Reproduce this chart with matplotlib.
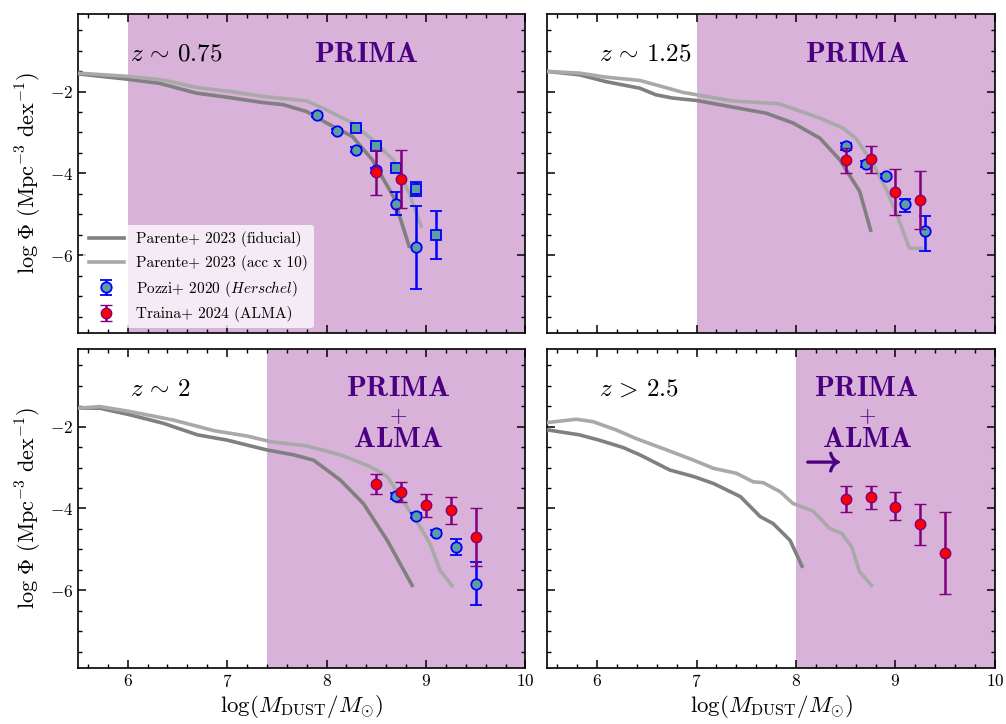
import numpy as np
import matplotlib
matplotlib.use("Agg")
from matplotlib import pyplot as plt
from matplotlib.ticker import MultipleLocator
from matplotlib import patheffects

plt.rcParams['font.family'] = 'serif'
plt.rcParams['font.serif'] = ['cmr10']
plt.rcParams['mathtext.fontset'] = 'cm'
plt.rcParams['axes.formatter.use_mathtext'] = True

# ---- z ~ 0.75 ----
fid_x_1 = [5.5, 6.0, 6.32, 6.69, 7.0, 7.36, 7.56, 7.8, 8.0, 8.26, 8.46, 8.67, 8.83]
fid_y_1 = [-1.57, -1.70, -1.80, -2.04, -2.14, -2.27, -2.32, -2.49, -2.77, -3.10, -3.67, -4.56, -5.78]
acc_x_1 = [5.5, 6.0, 6.36, 6.69, 7.03, 7.36, 7.8, 8.0, 8.26, 8.46, 8.67, 8.83, 8.95]
acc_y_1 = [-1.55, -1.63, -1.72, -1.90, -2.00, -2.12, -2.23, -2.45, -2.77, -3.18, -3.67, -4.48, -5.29]
poz_x_1 = [7.9, 8.1, 8.3, 8.5, 8.7, 8.9]
poz_y_1 = [-2.57, -2.96, -3.42, -3.93, -4.75, -5.81]
poz_lo_1 = [0.05, 0.05, 0.06, 0.06, 0.27, 1.01]
poz_hi_1 = [0.05, 0.05, 0.06, 0.06, 0.29, 1.01]
pozsq_x_1 = [8.3, 8.5, 8.7, 8.9, 9.1]
pozsq_y_1 = [-2.89, -3.34, -3.87, -4.38, -5.50]
pozsq_err_1 = [0.05, 0.05, 0.05, 0.17, 0.59]
tra_x_1 = [8.5, 8.75]
tra_y_1 = [-3.97, -4.15]
tra_lo_1 = [0.57, 0.70]
tra_hi_1 = [0.55, 0.71]

# ---- z ~ 1.25 ----
fid_x_2 = [5.5, 5.82, 6.09, 6.43, 6.59, 6.76, 7.0, 7.36, 7.70, 7.97, 8.24, 8.44, 8.64, 8.75]
fid_y_2 = [-1.51, -1.59, -1.76, -1.92, -2.08, -2.16, -2.22, -2.38, -2.53, -2.77, -3.14, -3.67, -4.44, -5.39]
acc_x_2 = [5.5, 5.82, 6.09, 6.43, 6.86, 7.0, 7.36, 7.83, 8.24, 8.47, 8.60, 8.77, 8.91, 9.02, 9.14, 9.26]
acc_y_2 = [-1.51, -1.55, -1.65, -1.73, -2.02, -2.08, -2.23, -2.30, -2.65, -2.89, -3.14, -3.75, -4.40, -5.05, -5.83, -5.83]
poz_x_2 = [8.5, 8.7, 8.9, 9.1, 9.3]
poz_y_2 = [-3.34, -3.77, -4.06, -4.75, -5.41]
poz_lo_2 = [0.08, 0.07, 0.05, 0.19, 0.49]
poz_hi_2 = [0.08, 0.07, 0.05, 0.13, 0.36]
tra_x_2 = [8.5, 8.75, 9.0, 9.25]
tra_y_2 = [-3.67, -3.64, -4.46, -4.64]
tra_lo_2 = [0.33, 0.34, 0.56, 0.71]
tra_hi_2 = [0.30, 0.31, 0.57, 0.69]

# ---- z ~ 2 ----
fid_x_3 = [5.5, 5.72, 6.02, 6.36, 6.70, 7.0, 7.4, 7.67, 7.87, 8.14, 8.37, 8.61, 8.86]
fid_y_3 = [-1.55, -1.55, -1.71, -1.92, -2.20, -2.33, -2.57, -2.69, -2.82, -3.31, -3.88, -4.78, -5.88]
acc_x_3 = [5.5, 5.72, 6.02, 6.46, 6.87, 7.2, 7.44, 7.8, 8.14, 8.44, 8.61, 8.74, 8.94, 9.04, 9.14, 9.26]
acc_y_3 = [-1.55, -1.51, -1.63, -1.84, -2.10, -2.23, -2.37, -2.47, -2.69, -2.98, -3.22, -3.71, -4.45, -4.86, -5.51, -5.88]
poz_x_3 = [8.7, 8.9, 9.1, 9.3, 9.5]
poz_y_3 = [-3.70, -4.18, -4.59, -4.94, -5.84]
poz_lo_3 = [0.07, 0.06, 0.06, 0.20, 0.53]
poz_hi_3 = [0.07, 0.06, 0.06, 0.19, 0.53]
tra_x_3 = [8.5, 8.75, 9.0, 9.25, 9.5]
tra_y_3 = [-3.40, -3.59, -3.92, -4.04, -4.69]
tra_lo_3 = [0.25, 0.26, 0.28, 0.33, 0.71]
tra_hi_3 = [0.23, 0.23, 0.27, 0.31, 0.71]

# ---- z > 2.5 ----
fid_x_4 = [5.5, 5.82, 6.02, 6.26, 6.43, 6.73, 6.97, 7.17, 7.44, 7.64, 7.77, 7.94, 8.06]
fid_y_4 = [-2.08, -2.20, -2.33, -2.51, -2.69, -3.06, -3.22, -3.39, -3.71, -4.20, -4.37, -4.78, -5.41]
acc_x_4 = [5.5, 5.79, 5.96, 6.19, 6.39, 6.70, 6.97, 7.17, 7.40, 7.57, 7.67, 7.84, 7.97, 8.17, 8.34,
           8.46, 8.56, 8.64, 8.76]
acc_y_4 = [-1.90, -1.82, -1.88, -2.08, -2.29, -2.57, -2.82, -3.02, -3.14, -3.35, -3.37, -3.59, -3.88,
           -4.06, -4.49, -4.61, -4.94, -5.55, -5.88]
tra_x_4 = [8.5, 8.75, 9.0, 9.25, 9.5]
tra_y_4 = [-3.77, -3.73, -3.96, -4.39, -5.08]
tra_lo_4 = [0.32, 0.29, 0.33, 0.51, 1.01]
tra_hi_4 = [0.32, 0.28, 0.35, 0.50, 0.99]

z_labels = [r'$z\,\sim\,0.75$', r'$z\,\sim\,1.25$', r'$z\,\sim\,2$', r'$z\,>\,2.5$']
shade_from = [6.0, 7.0, 7.4, 8.0]

INDIGO = '#4b0082'


def draw_panel(ax, fx, fy, ax_, ay, tx, ty, tlo, thi, px=None, py=None, plo=None, phi=None):
    ax.plot(fx, fy, color='gray', lw=2.6, label='Parente+ 2023 (fiducial)', zorder=3)
    ax.plot(ax_, ay, color='darkgray', lw=2.6, label='Parente+ 2023 (acc x 10)', zorder=3)
    if px is not None:
        ax.errorbar(px, py, yerr=[plo, phi], fmt='o', ms=7.5, mfc='cadetblue', mec='blue', mew=1.3,
                    ecolor='blue', elinewidth=1.8, capsize=4.5, capthick=1.8, zorder=4,
                    label=r'Pozzi+ 2020 ($\mathit{Herschel}$)')
    ax.errorbar(tx, ty, yerr=[tlo, thi], fmt='o', ms=7.5, mfc='red', mec='purple', mew=1.0,
                ecolor='purple', elinewidth=1.8, capsize=4.5, capthick=1.8, zorder=5,
                label='Traina+ 2024 (ALMA)')


fig, axes = plt.subplots(2, 2, figsize=(10.06, 7.24), dpi=100, sharex=True, sharey=True)
fig.subplots_adjust(left=0.0775, right=0.989, bottom=0.0773, top=0.981, wspace=0.049, hspace=0.05)
axs = axes.ravel()

draw_panel(axs[0], fid_x_1, fid_y_1, acc_x_1, acc_y_1, tra_x_1, tra_y_1, tra_lo_1, tra_hi_1,
           poz_x_1, poz_y_1, poz_lo_1, poz_hi_1)
axs[0].errorbar(pozsq_x_1, pozsq_y_1, yerr=pozsq_err_1, fmt='s', ms=7.5, mfc='cadetblue', mec='blue',
                mew=1.3, ecolor='blue', elinewidth=1.8, capsize=4.5, capthick=1.8, zorder=4)
draw_panel(axs[1], fid_x_2, fid_y_2, acc_x_2, acc_y_2, tra_x_2, tra_y_2, tra_lo_2, tra_hi_2,
           poz_x_2, poz_y_2, poz_lo_2, poz_hi_2)
draw_panel(axs[2], fid_x_3, fid_y_3, acc_x_3, acc_y_3, tra_x_3, tra_y_3, tra_lo_3, tra_hi_3,
           poz_x_3, poz_y_3, poz_lo_3, poz_hi_3)
draw_panel(axs[3], fid_x_4, fid_y_4, acc_x_4, acc_y_4, tra_x_4, tra_y_4, tra_lo_4, tra_hi_4)

for i, ax in enumerate(axs):
    ax.axvspan(shade_from[i], 10, color='purple', alpha=0.3, lw=0, zorder=0)
    ax.text(6.02, -1.1, z_labels[i], fontsize=18, va='center', ha='left')
    ax.set_xlim(5.5, 10)
    ax.set_ylim(-7.9, -0.1)
    ax.xaxis.set_major_locator(MultipleLocator(1))
    ax.xaxis.set_minor_locator(MultipleLocator(0.2))
    ax.yaxis.set_major_locator(MultipleLocator(2))
    ax.yaxis.set_minor_locator(MultipleLocator(0.5))
    ax.tick_params(which='both', direction='in', top=True, right=True, labelsize=12.5)
    ax.tick_params(which='major', length=6, width=1.1)
    ax.tick_params(which='minor', length=3, width=1.0)
    for s in ax.spines.values():
        s.set_linewidth(1.2)

axs[0].text(8.4, -1.1, r'$\mathbf{PRIMA}$', fontsize=21, color=INDIGO, ha='center', va='center')
axs[1].text(8.61, -1.1, r'$\mathbf{PRIMA}$', fontsize=21, color=INDIGO, ha='center', va='center')
for ax, xc in [(axs[2], 8.72), (axs[3], 8.71)]:
    ax.text(xc, -1.08, r'$\mathbf{PRIMA}$', fontsize=21, color=INDIGO, ha='center', va='center')
    ax.text(xc, -1.74, r'$+$', fontsize=16, color=INDIGO, ha='center', va='center')
    ax.text(xc, -2.32, r'$\mathbf{ALMA}$', fontsize=21, color=INDIGO, ha='center', va='center')
axs[3].text(8.24, -2.88, r'$\rightarrow$', fontsize=26, color=INDIGO, ha='center', va='center',
            path_effects=[patheffects.withStroke(linewidth=1.3, foreground=INDIGO)])

for ax in axes[:, 0]:
    ax.set_ylabel(r'$\log\,\Phi\ (\mathrm{Mpc}^{-3}\ \mathrm{dex}^{-1})$', fontsize=16)
for ax in axes[1, :]:
    ax.set_xlabel(r'$\log(M_{\mathrm{DUST}}/M_{\odot})$', fontsize=16.5, labelpad=2)

leg = axs[0].legend(loc='lower left', fontsize=11, frameon=True, framealpha=0.75,
                    facecolor='white', edgecolor='none', handlelength=2.3,
                    borderaxespad=0.3)

fig.savefig('out.png', dpi=100)
